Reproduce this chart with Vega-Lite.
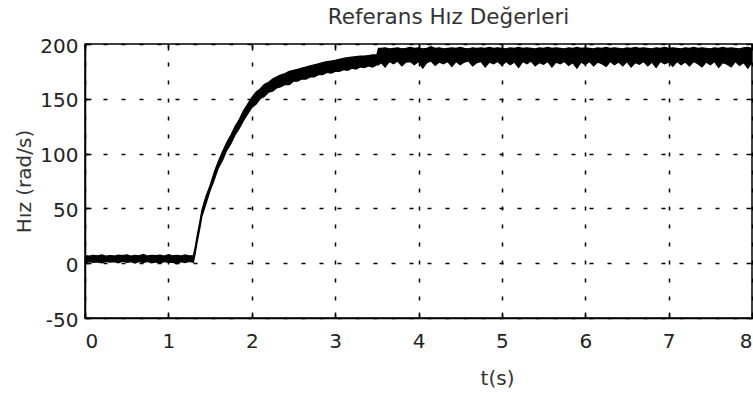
{
  "$schema": "https://vega.github.io/schema/vega-lite/v6.json",
  "width": 667,
  "height": 274,
  "autosize": {"type": "none"},
  "padding": {"left": 85, "top": 44, "right": 1, "bottom": 76},
  "background": "white",
  "title": {"text": "Referans Hız Değerleri", "font": "DejaVu Sans", "fontSize": 21.5, "fontWeight": "normal", "color": "#333", "anchor": "middle", "dx": 30, "offset": 8},
  "config": {
    "view": {"stroke": "#000", "strokeWidth": 1.5},
    "axis": {"labelFont": "DejaVu Sans", "labelFontSize": 20, "labelColor": "#222", "titleFont": "DejaVu Sans", "titleFontSize": 20, "titleFontWeight": "normal", "titleColor": "#333", "domainColor": "#000", "domainWidth": 1.5, "tickColor": "#000", "tickWidth": 1.5, "gridColor": "#000", "gridOpacity": 1, "gridWidth": 1.5, "gridDash": [4, 14]}
  },
  "data": {"values": [
    {"t":0.00,"lo":0.5,"hi":7},{"t":0.05,"lo":1.5,"hi":6.5},{"t":0.10,"lo":0.8,"hi":7.2},{"t":0.15,"lo":1.2,"hi":6.8},{"t":0.20,"lo":0.2,"hi":7.5},{"t":0.25,"lo":1.6,"hi":6.4},{"t":0.30,"lo":0.9,"hi":7.0},{"t":0.35,"lo":1.4,"hi":6.6},{"t":0.40,"lo":0.3,"hi":7.3},{"t":0.45,"lo":1.8,"hi":6.9},{"t":0.50,"lo":0.7,"hi":7.6},{"t":0.55,"lo":1.3,"hi":6.5},{"t":0.60,"lo":0.1,"hi":7.1},{"t":0.65,"lo":1.5,"hi":6.7},{"t":0.70,"lo":0.6,"hi":8.0},{"t":0.75,"lo":1.7,"hi":6.6},{"t":0.80,"lo":0.4,"hi":7.2},{"t":0.85,"lo":1.2,"hi":6.9},{"t":0.90,"lo":-0.2,"hi":7.4},{"t":0.95,"lo":1.5,"hi":6.5},{"t":1.00,"lo":0.8,"hi":7.8},{"t":1.05,"lo":1.0,"hi":6.8},{"t":1.10,"lo":-0.5,"hi":7.2},{"t":1.15,"lo":1.4,"hi":6.6},{"t":1.20,"lo":0.6,"hi":7.5},{"t":1.25,"lo":1.6,"hi":6.8},{"t":1.30,"lo":0.9,"hi":7.0},
    {"t":1.32,"lo":8,"hi":14},{"t":1.34,"lo":17,"hi":23},{"t":1.36,"lo":25,"hi":31},{"t":1.38,"lo":33,"hi":39},{"t":1.40,"lo":42,"hi":48},{"t":1.45,"lo":54,"hi":61},{"t":1.50,"lo":66,"hi":71},{"t":1.55,"lo":76,"hi":83},{"t":1.60,"lo":87,"hi":93},{"t":1.65,"lo":94,"hi":102},{"t":1.70,"lo":103,"hi":110},{"t":1.75,"lo":109,"hi":117},{"t":1.80,"lo":117,"hi":125},{"t":1.85,"lo":123,"hi":131},{"t":1.90,"lo":130,"hi":139},{"t":1.95,"lo":136,"hi":145},{"t":2.00,"lo":142,"hi":151},{"t":2.05,"lo":145,"hi":156},{"t":2.10,"lo":150,"hi":159},{"t":2.15,"lo":152,"hi":163},{"t":2.20,"lo":156,"hi":165},{"t":2.25,"lo":157,"hi":168},{"t":2.30,"lo":160,"hi":170},{"t":2.35,"lo":161,"hi":172},{"t":2.40,"lo":163,"hi":173},{"t":2.45,"lo":163,"hi":175},{"t":2.50,"lo":166,"hi":176},{"t":2.55,"lo":166,"hi":177},{"t":2.60,"lo":168,"hi":178},{"t":2.65,"lo":168,"hi":179},{"t":2.70,"lo":170,"hi":180},{"t":2.75,"lo":170,"hi":181},{"t":2.80,"lo":172,"hi":182},{"t":2.85,"lo":172,"hi":183},{"t":2.90,"lo":174,"hi":184},{"t":2.95,"lo":173.5,"hi":184.5},{"t":3.00,"lo":175,"hi":185},{"t":3.05,"lo":175,"hi":186},{"t":3.10,"lo":176.5,"hi":187},{"t":3.15,"lo":176,"hi":187.5},{"t":3.20,"lo":178,"hi":188},{"t":3.25,"lo":177,"hi":188.5},{"t":3.30,"lo":179,"hi":189},{"t":3.35,"lo":178.5,"hi":189},{"t":3.40,"lo":180,"hi":189.5},{"t":3.45,"lo":179,"hi":190},{"t":3.50,"lo":181,"hi":190},{"t":3.52,"lo":181,"hi":196},
    {"t":3.55,"lo":183,"hi":196},{"t":3.60,"lo":179,"hi":196.5},{"t":3.65,"lo":184,"hi":195.5},{"t":3.70,"lo":182,"hi":196},{"t":3.75,"lo":184.5,"hi":196.5},{"t":3.80,"lo":180,"hi":195.5},{"t":3.85,"lo":183.5,"hi":196},{"t":3.90,"lo":184,"hi":197},{"t":3.95,"lo":181,"hi":196},{"t":4.00,"lo":184,"hi":196.5},{"t":4.05,"lo":178,"hi":195.5},{"t":4.10,"lo":183,"hi":196},{"t":4.15,"lo":184.5,"hi":197.5},{"t":4.20,"lo":180.5,"hi":196},{"t":4.25,"lo":183.5,"hi":196.5},{"t":4.30,"lo":182,"hi":195.5},{"t":4.35,"lo":184,"hi":196},{"t":4.40,"lo":179.5,"hi":196.5},{"t":4.45,"lo":184,"hi":196},{"t":4.50,"lo":181,"hi":197},{"t":4.55,"lo":183.5,"hi":196},{"t":4.60,"lo":184.5,"hi":195.5},{"t":4.65,"lo":180,"hi":196.5},{"t":4.70,"lo":183,"hi":196},{"t":4.75,"lo":184,"hi":196.5},{"t":4.80,"lo":179,"hi":196},{"t":4.85,"lo":183.5,"hi":197},{"t":4.90,"lo":182,"hi":196},{"t":4.95,"lo":184,"hi":196.5},{"t":5.00,"lo":180.5,"hi":196},{"t":5.05,"lo":184,"hi":195.5},{"t":5.10,"lo":181,"hi":196.5},{"t":5.15,"lo":183.5,"hi":196},{"t":5.20,"lo":178.5,"hi":197},{"t":5.25,"lo":184,"hi":196},{"t":5.30,"lo":182,"hi":196.5},{"t":5.35,"lo":184.5,"hi":196},{"t":5.40,"lo":180,"hi":195.5},{"t":5.45,"lo":183,"hi":196.5},{"t":5.50,"lo":181.5,"hi":196},{"t":5.55,"lo":184,"hi":197},{"t":5.60,"lo":179,"hi":196},{"t":5.65,"lo":183.5,"hi":196.5},{"t":5.70,"lo":182,"hi":196},{"t":5.75,"lo":184,"hi":195.5},{"t":5.80,"lo":180.5,"hi":196.5},{"t":5.85,"lo":183,"hi":196},{"t":5.90,"lo":178,"hi":197},{"t":5.95,"lo":183.5,"hi":196},{"t":6.00,"lo":181,"hi":196.5},{"t":6.05,"lo":184,"hi":196},{"t":6.10,"lo":180,"hi":195.5},{"t":6.15,"lo":183.5,"hi":196.5},{"t":6.20,"lo":182,"hi":196},{"t":6.25,"lo":179.5,"hi":197},{"t":6.30,"lo":184,"hi":196},{"t":6.35,"lo":181,"hi":196.5},{"t":6.40,"lo":183.5,"hi":196},{"t":6.45,"lo":180,"hi":195.5},{"t":6.50,"lo":184,"hi":196.5},{"t":6.55,"lo":179,"hi":196},{"t":6.60,"lo":183,"hi":197},{"t":6.65,"lo":181.5,"hi":196},{"t":6.70,"lo":184,"hi":196.5},{"t":6.75,"lo":180,"hi":196},{"t":6.80,"lo":183.5,"hi":195.5},{"t":6.85,"lo":178.5,"hi":196.5},{"t":6.90,"lo":184,"hi":196},{"t":6.95,"lo":182,"hi":197},{"t":7.00,"lo":183.5,"hi":196},{"t":7.05,"lo":179.5,"hi":196.5},{"t":7.10,"lo":184,"hi":196},{"t":7.15,"lo":181,"hi":195.5},{"t":7.20,"lo":183.5,"hi":196.5},{"t":7.25,"lo":180,"hi":196},{"t":7.30,"lo":184,"hi":197},{"t":7.35,"lo":182,"hi":196},{"t":7.40,"lo":179,"hi":196.5},{"t":7.45,"lo":183.5,"hi":196},{"t":7.50,"lo":181,"hi":195.5},{"t":7.55,"lo":184,"hi":196.5},{"t":7.60,"lo":178.5,"hi":196},{"t":7.65,"lo":183,"hi":197},{"t":7.70,"lo":181.5,"hi":196},{"t":7.75,"lo":179,"hi":196.5},{"t":7.80,"lo":184,"hi":196},{"t":7.85,"lo":180.5,"hi":195.5},{"t":7.90,"lo":183,"hi":196.5},{"t":7.95,"lo":178,"hi":197},{"t":8.00,"lo":183.5,"hi":196}
  ]},
  "layer": [
    {
      "mark": {"type": "area", "color": "#000", "stroke": "#000", "strokeWidth": 1.2, "clip": true},
      "encoding": {
        "x": {"field": "t", "type": "quantitative", "scale": {"domain": [0, 8], "nice": false}, "axis": {"orient": "bottom", "values": [0,1,2,3,4,5,6,7,8], "title": "t(s)", "titleX": 412, "titlePadding": 17, "tickSize": -6, "labelPadding": 19, "grid": true}},
        "y": {"field": "lo", "type": "quantitative", "scale": {"domain": [-50, 200], "nice": false}, "axis": {"orient": "left", "values": [-50,0,50,100,150,200], "labelExpr": "replace(datum.label, '−', '-')", "title": "Hız (rad/s)", "titlePadding": 5, "tickSize": -6, "labelPadding": 13, "labelOffset": 2, "grid": true}},
        "y2": {"field": "hi"}
      }
    },
    {
      "mark": {"type": "point", "opacity": 0},
      "encoding": {
        "x": {"field": "t", "type": "quantitative", "axis": {"orient": "top", "values": [0,1,2,3,4,5,6,7,8], "labels": false, "title": null, "domain": false, "grid": false, "tickSize": -6}},
        "y": {"field": "lo", "type": "quantitative", "axis": {"orient": "right", "values": [-50,0,50,100,150,200], "labels": false, "title": null, "domain": false, "grid": false, "tickSize": -6}}
      }
    }
  ],
  "resolve": {"axis": {"x": "independent", "y": "independent"}}
}
